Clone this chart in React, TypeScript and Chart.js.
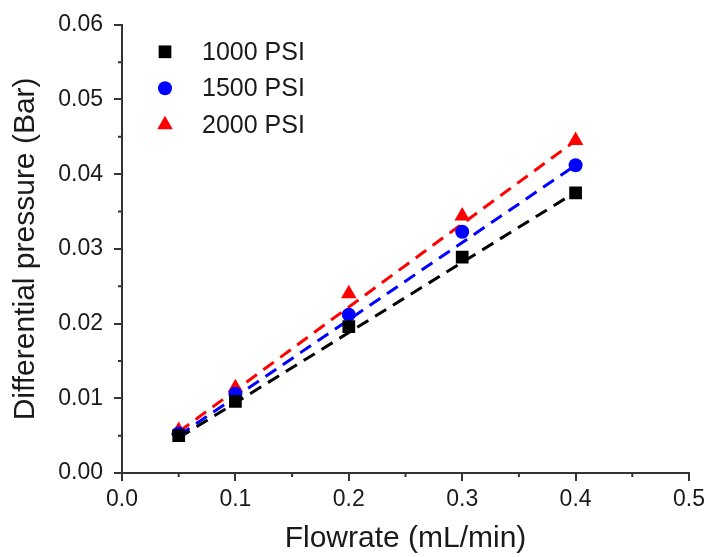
import React, { useEffect, useRef } from 'react';
import { Chart, registerables } from 'chart.js';
import { drawPoint } from 'chart.js/helpers';

Chart.register(...registerables);

// ---- data ----
const flowrates = [0.05, 0.1, 0.2, 0.3, 0.4];
const psi1000 = [0.005, 0.0096, 0.0196, 0.0289, 0.0375];
const psi1500 = [0.0053, 0.0106, 0.0212, 0.0323, 0.0412];
const psi2000 = [0.0057, 0.0114, 0.024, 0.0344, 0.0445];

const fitX = [0.05, 0.4];
const fit1000 = [0.0047, 0.0376];
const fit1500 = [0.005, 0.0412];
const fit2000 = [0.0055, 0.0445];

const seriesLabels = ['1000 PSI', '1500 PSI', '2000 PSI'];
const seriesColors = ['#000000', '#0000ff', '#ff0000'];
const seriesStyles = ['rect', 'circle', 'triangle'];
const seriesRadii = [9, 7, 9];

const xMinorTicks = [0.05, 0.15, 0.25, 0.35, 0.45];
const yMinorTicks = [0.005, 0.015, 0.025, 0.035, 0.045, 0.055];

const FONT = "'Liberation Sans', Arial, sans-serif";
const AXIS_COLOR = '#333333';
const TEXT_COLOR = '#1a1a1a';

const toPoints = (xs: number[], ys: number[]) => xs.map((x, i) => ({ x, y: ys[i] }));

const minorTicksPlugin = {
  id: 'minorTicks',
  afterDraw(chart: any) {
    const ctx = chart.ctx;
    const xs = chart.scales.x;
    const ys = chart.scales.y;
    const area = chart.chartArea;
    ctx.save();
    ctx.strokeStyle = AXIS_COLOR;
    ctx.lineWidth = 2;
    ctx.beginPath();
    xMinorTicks.forEach((v) => {
      const px = xs.getPixelForValue(v);
      ctx.moveTo(px, area.bottom);
      ctx.lineTo(px, area.bottom + 4);
    });
    yMinorTicks.forEach((v) => {
      const py = ys.getPixelForValue(v);
      ctx.moveTo(area.left, py);
      ctx.lineTo(area.left - 4, py);
    });
    ctx.stroke();
    ctx.restore();
  },
};

const insideLegendPlugin = {
  id: 'insideLegend',
  afterDraw(chart: any) {
    const ctx = chart.ctx;
    const area = chart.chartArea;
    const markerX = area.left + 43;
    const textX = area.left + 80;
    const startY = area.top + 27;
    const stepY = 36.5;
    ctx.save();
    ctx.font = `25px ${FONT}`;
    ctx.textBaseline = 'middle';
    ctx.textAlign = 'left';
    seriesLabels.forEach((label, i) => {
      const y = startY + i * stepY;
      ctx.fillStyle = seriesColors[i];
      ctx.strokeStyle = seriesColors[i];
      drawPoint(ctx, { pointStyle: seriesStyles[i], radius: seriesRadii[i], rotation: 0, borderWidth: 0 } as any, markerX, y);
      ctx.fillStyle = TEXT_COLOR;
      ctx.fillText(label, textX, y + 1);
    });
    ctx.restore();
  },
};

export default function App() {
  const canvasRef = useRef<HTMLCanvasElement | null>(null);

  useEffect(() => {
    document.body.style.margin = '0';
    const canvas = canvasRef.current;
    if (!canvas) return;

    const markerSets = [psi1000, psi1500, psi2000].map((ys, i) => ({
      label: seriesLabels[i],
      data: toPoints(flowrates, ys),
      showLine: false,
      pointStyle: seriesStyles[i],
      pointRadius: seriesRadii[i],
      pointHoverRadius: seriesRadii[i],
      pointBackgroundColor: seriesColors[i],
      pointBorderColor: seriesColors[i],
      pointBorderWidth: 0,
      backgroundColor: seriesColors[i],
      borderColor: seriesColors[i],
    }));

    const fitSets = [fit1000, fit1500, fit2000].map((ys, i) => ({
      label: seriesLabels[i] + ' fit',
      data: toPoints(fitX, ys),
      showLine: true,
      pointRadius: 0,
      borderColor: seriesColors[i],
      borderWidth: 3,
      borderDash: [13, 8],
      fill: false,
    }));

    const chart = new Chart(canvas, {
      type: 'scatter',
      data: { datasets: [...markerSets, ...fitSets] as any },
      options: {
        responsive: false,
        animation: false,
        devicePixelRatio: 1,
        layout: { padding: { top: 20, right: 21, left: 0, bottom: 0 } },
        plugins: {
          legend: { display: false },
          tooltip: { enabled: false },
        },
        scales: {
          x: {
            type: 'linear',
            min: 0,
            max: 0.5,
            afterFit: (scale: any) => {
              scale.height = 84;
            },
            ticks: {
              stepSize: 0.1,
              color: TEXT_COLOR,
              font: { family: FONT, size: 23 },
              padding: 5,
              maxRotation: 0,
              callback: (v: any) => Number(v).toFixed(1),
            },
            grid: {
              display: true,
              drawOnChartArea: false,
              drawTicks: true,
              tickLength: 8,
              color: AXIS_COLOR,
              lineWidth: 2,
            },
            border: { display: true, color: AXIS_COLOR, width: 2 },
            title: {
              display: true,
              text: 'Flowrate (mL/min)',
              color: TEXT_COLOR,
              font: { family: FONT, size: 30 },
              padding: { top: 0, bottom: 0 },
            },
          },
          y: {
            type: 'linear',
            min: 0,
            max: 0.06,
            afterFit: (scale: any) => {
              scale.width = 122;
            },
            ticks: {
              stepSize: 0.01,
              color: TEXT_COLOR,
              font: { family: FONT, size: 23 },
              padding: 11,
              callback: (v: any) => Number(v).toFixed(2),
            },
            grid: {
              display: true,
              drawOnChartArea: false,
              drawTicks: true,
              tickLength: 8,
              color: AXIS_COLOR,
              lineWidth: 2,
            },
            border: { display: true, color: AXIS_COLOR, width: 2 },
            title: {
              display: true,
              text: 'Differential pressure (Bar)',
              color: TEXT_COLOR,
              font: { family: FONT, size: 30 },
              padding: { top: 8, bottom: 0 },
            },
          },
        },
      },
      plugins: [minorTicksPlugin, insideLegendPlugin],
    });

    return () => {
      chart.destroy();
    };
  }, []);

  return (
    <div style={{ width: 710, height: 557, background: '#ffffff' }}>
      <canvas ref={canvasRef} width={710} height={557} style={{ display: 'block' }} />
    </div>
  );
}
